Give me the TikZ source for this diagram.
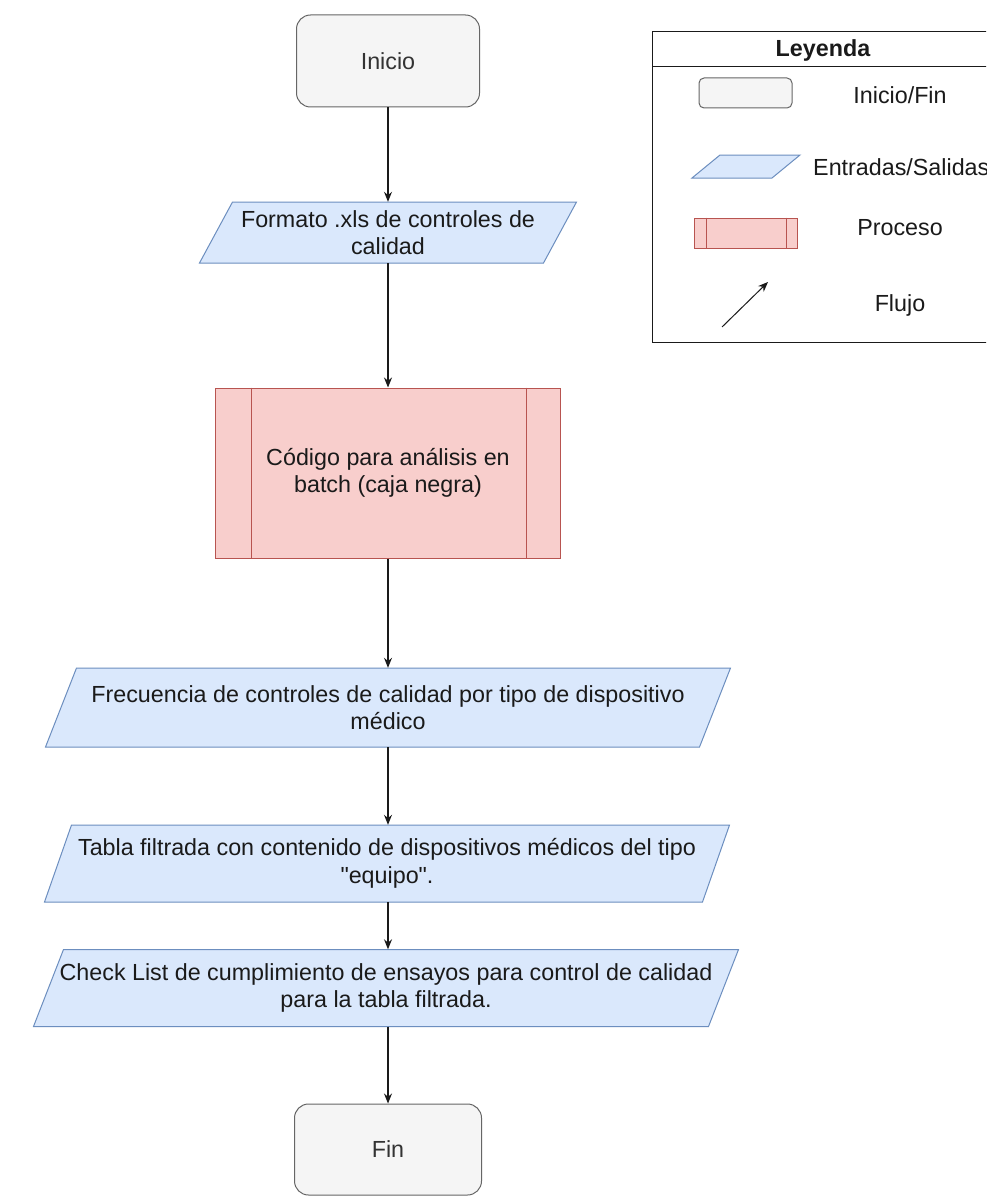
\documentclass[tikz,border=0pt]{standalone}
\usepackage{fontspec}
\setmainfont{Liberation Sans}[Ligatures=TeXOff]
\usetikzlibrary{arrows.meta,calc}
\definecolor{iofill}{HTML}{DAE8FC}
\definecolor{iodraw}{HTML}{6C8EBF}
\definecolor{prfill}{HTML}{F8CECC}
\definecolor{prdraw}{HTML}{B85450}
\definecolor{tmfill}{HTML}{F5F5F5}
\definecolor{tmdraw}{HTML}{666666}
\definecolor{tmtext}{HTML}{333333}
\definecolor{ink}{HTML}{1A1A1A}
\newcommand\iobox[7]{%
  \draw[iopath] (#2-#4/2+#6/2, #3-#5/2) -- (#2+#4/2+#6/2, #3-#5/2) -- (#2+#4/2-#6/2, #3+#5/2) -- (#2-#4/2-#6/2, #3+#5/2) -- cycle;
  \node[iotext, minimum width=#4pt, minimum height=#5pt] (#1) at (#2,#3) {#7};}
\begin{document}
\begin{tikzpicture}[x=1pt,y=-1pt,
  font=\fontsize{23.3}{27.6}\selectfont,
  term/.style={draw=tmdraw, fill=tmfill, rounded corners=14pt, text=tmtext, line width=1pt, inner sep=0pt, align=center},
  iotext/.style={inner sep=0pt, align=center, text=ink},
  iopath/.style={fill=iofill, draw=iodraw, line width=1pt},
  proc/.style={draw=prdraw, fill=prfill, line width=1pt, inner sep=0pt, align=center, text=ink},
  flow/.style={draw=ink, line width=1.1pt, -{Stealth[length=10pt,width=8pt]}},
  lgtext/.style={inner sep=0pt, text=ink}]
\useasboundingbox (0,0) rectangle (986,1196);
\clip (0,0) rectangle (986,1196);
\fill[white] (0,0) rectangle (986,1196);

% main flow
\node[term, minimum width=183pt, minimum height=92pt] (inicio) at (388,61) {Inicio};
\iobox{p1}{388}{232.5}{344}{61}{33}{Formato .xls de controles de\\calidad}
\node[proc, minimum width=345pt, minimum height=170pt] (proc) at (388,473) {Código para análisis en\\batch (caja negra)};
\draw[prdraw, line width=1pt] ($(proc.north west)+(36,0)$) -- ($(proc.south west)+(36,0)$);
\draw[prdraw, line width=1pt] ($(proc.north east)+(-35,0)$) -- ($(proc.south east)+(-35,0)$);
\iobox{p2}{388}{707.5}{654}{79}{31}{Frecuencia de controles de calidad por tipo de dispositivo\\médico}
\iobox{p3}{387}{863.5}{658}{77}{27}{Tabla filtrada con contenido de dispositivos médicos del tipo\\"equipo".}
\iobox{p4}{386}{988}{675}{77}{30}{Check List de cumplimiento de ensayos para control de calidad\\para la tabla filtrada.}
\node[term, minimum width=187pt, minimum height=91pt] (fin) at (388,1149.5) {Fin};

\draw[flow] (inicio.south) -- (inicio.south |- p1.north);
\draw[flow] (p1.south -| inicio.south) -- (inicio.south |- proc.north);
\draw[flow] (proc.south) -- (proc.south |- p2.north);
\draw[flow] (p2.south) -- (p2.south |- p3.north);
\draw[flow] (p3.south -| p2.south) -- (p2.south |- p4.north);
\draw[flow] (p4.south -| p2.south) -- (p2.south |- fin.north);

% legend
\draw[line width=1pt, ink] (652,32) rectangle (1000,342);
\draw[line width=1pt, ink] (652,67) -- (1000,67);
\node[lgtext, font=\fontsize{23.3}{27.6}\selectfont\bfseries] (legt) at (823,50) {Leyenda};
\node[term, rounded corners=5pt, minimum width=93pt, minimum height=30pt] (lg1) at (745.5,93) {};
\node[lgtext] (lt1) at (900,95) {Inicio/Fin};
\draw[iopath] (720,155) -- (800,155) -- (772,178) -- (692,178) -- cycle;
\node[lgtext, anchor=west] (lt2) at (813,167) {Entradas/Salidas};
\node[proc, minimum width=103pt, minimum height=30pt] (lg3) at (745.5,233) {};
\draw[prdraw, line width=1pt] ($(lg3.north west)+(13,0)$) -- ($(lg3.south west)+(13,0)$);
\draw[prdraw, line width=1pt] ($(lg3.north east)+(-11,0)$) -- ($(lg3.south east)+(-11,0)$);
\node[lgtext] (lt3) at (900,228) {Proceso};
\coordinate (fa) at (722,327);
\coordinate (fb) at (768,282);
\draw[flow, line width=1pt] (fa) -- (fb);
\node[lgtext] (lt4) at (900,305) {Flujo};
\end{tikzpicture}
\end{document}
